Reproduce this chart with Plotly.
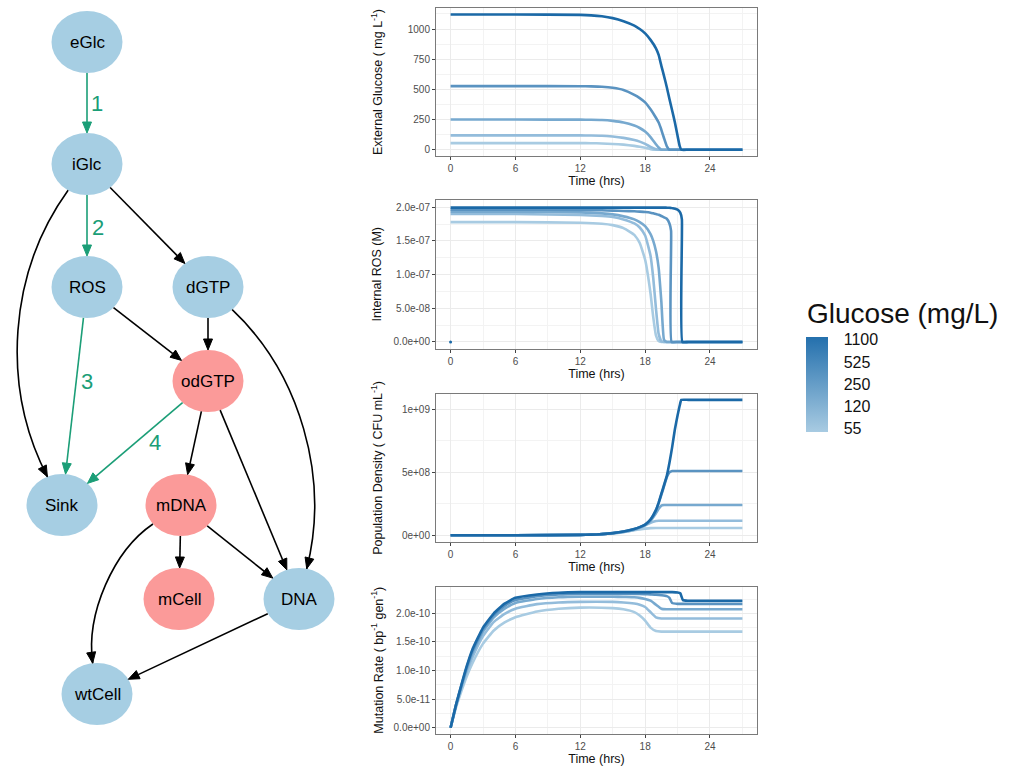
import math
import plotly.graph_objects as go

# ---------------- data ----------------
glucose_levels = ['1100', '525', '250', '120', '55']
line_colors = ['#1b69a7', '#5a93c1', '#77a9cf', '#93bcdb', '#a8cbe2']

# external glucose (mg/L) and population density (units of 1e9 CFU/mL)
t_glc = [0, 6, 12, 13, 14, 15, 16, 17, 17.5, 18, 18.5, 19, 19.25, 19.5, 19.75,
         20, 20.25, 20.5, 20.75, 21, 21.2, 21.35, 22, 27]
glc_1100 = [1120, 1120, 1117, 1113, 1105, 1090, 1065, 1028, 1000, 964, 910, 840,
            785, 695, 610, 520, 420, 325, 228, 115, 30, 0, 0, 0]
glc_525 = [527, 527, 526, 525, 522, 513, 495, 455, 428, 392, 335, 265,
           225, 165, 95, 30, 0, 0, 0, 0, 0, 0, 0, 0]
glc_250 = [250, 250, 249, 248, 246, 239, 226, 200, 180, 150, 105, 45,
           18, 0, 0, 0, 0, 0, 0, 0, 0, 0, 0, 0]
glc_120 = [119, 119, 118.5, 118, 116, 109, 98, 80, 67, 48, 24, 4,
           0, 0, 0, 0, 0, 0, 0, 0, 0, 0, 0, 0]
glc_55 = [55, 55, 54.5, 54, 52, 48, 42, 32, 25, 16, 5, 0,
          0, 0, 0, 0, 0, 0, 0, 0, 0, 0, 0, 0]

pop_1100 = [0, 0.0001, 0.003, 0.005, 0.009, 0.017, 0.03, 0.05, 0.065, 0.085, 0.125, 0.2,
            0.26, 0.33, 0.4, 0.47, 0.575, 0.70, 0.84, 0.95, 1.03, 1.075, 1.075, 1.075]
pop_525 = [0, 0.0001, 0.003, 0.005, 0.009, 0.017, 0.03, 0.05, 0.065, 0.085, 0.125, 0.2,
           0.255, 0.32, 0.39, 0.46, 0.50, 0.51, 0.51, 0.51, 0.51, 0.51, 0.51, 0.51]
pop_250 = [0, 0.0001, 0.003, 0.005, 0.009, 0.016, 0.028, 0.047, 0.062, 0.08, 0.115, 0.175,
           0.21, 0.235, 0.24, 0.24, 0.24, 0.24, 0.24, 0.24, 0.24, 0.24, 0.24, 0.24]
pop_120 = [0, 0.0001, 0.003, 0.005, 0.009, 0.016, 0.027, 0.045, 0.06, 0.078, 0.10, 0.113,
           0.115, 0.115, 0.115, 0.115, 0.115, 0.115, 0.115, 0.115, 0.115, 0.115, 0.115, 0.115]
pop_55 = [0, 0.0001, 0.003, 0.005, 0.009, 0.015, 0.025, 0.04, 0.047, 0.053, 0.057, 0.058,
          0.058, 0.058, 0.058, 0.058, 0.058, 0.058, 0.058, 0.058, 0.058, 0.058, 0.058, 0.058]

# internal ROS (units of 1e-7 M)
t_ros = [0, 6, 12, 14, 15, 16, 17, 17.5, 18, 18.5, 18.75, 19, 19.25, 19.5, 19.75,
         20, 20.25, 20.4, 20.45, 21, 21.25, 21.4, 21.45, 22, 27]
ros_1100 = [1.995, 1.995, 1.995, 1.995, 1.995, 1.995, 1.995, 1.995, 1.995, 1.995, 1.995, 1.995,
            1.995, 1.995, 1.995, 1.994, 1.992, 1.99, 1.99, 1.965, 1.92, 1.82, 0, 0, 0]
ros_525 = [1.965, 1.965, 1.96, 1.955, 1.95, 1.945, 1.94, 1.935, 1.93, 1.92, 1.91, 1.90,
           1.89, 1.87, 1.85, 1.83, 1.76, 1.65, 0, 0, 0, 0, 0, 0, 0]
ros_250 = [1.935, 1.935, 1.925, 1.91, 1.895, 1.865, 1.82, 1.78, 1.72, 1.6, 1.5, 1.35,
           1.1, 0.6, 0.03, 0, 0, 0, 0, 0, 0, 0, 0, 0, 0]
ros_120 = [1.90, 1.90, 1.885, 1.87, 1.855, 1.82, 1.76, 1.70, 1.58, 1.28, 0.95, 0.5,
           0.12, 0.01, 0, 0, 0, 0, 0, 0, 0, 0, 0, 0, 0]
ros_55 = [1.78, 1.78, 1.77, 1.755, 1.735, 1.69, 1.59, 1.47, 1.22, 0.72, 0.37, 0.1,
          0.015, 0, 0, 0, 0, 0, 0, 0, 0, 0, 0, 0, 0]

# mutation rate (units of 1e-10 per bp per generation)
t_mut = [0, 0.5, 1, 1.5, 2, 3, 4, 5, 6, 8, 10, 12, 15, 16, 17, 17.5, 18, 18.5, 19,
         19.5, 20, 20.25, 20.5, 21, 21.25, 21.5, 22, 27]
mut_1100 = [0, 0.40, 0.75, 1.08, 1.36, 1.75, 2.00, 2.17, 2.27, 2.33, 2.36, 2.37, 2.37, 2.37,
            2.37, 2.37, 2.37, 2.37, 2.37, 2.37, 2.37, 2.37, 2.37, 2.365, 2.35, 2.23, 2.22, 2.22]
mut_525 = [0, 0.40, 0.74, 1.06, 1.33, 1.72, 1.97, 2.13, 2.23, 2.30, 2.33, 2.34, 2.34, 2.34,
           2.34, 2.34, 2.335, 2.33, 2.325, 2.315, 2.30, 2.27, 2.18, 2.165, 2.165, 2.165, 2.165, 2.165]
mut_250 = [0, 0.39, 0.72, 1.03, 1.29, 1.68, 1.93, 2.08, 2.18, 2.25, 2.28, 2.29, 2.29, 2.285,
           2.28, 2.27, 2.25, 2.22, 2.15, 2.08, 2.07, 2.07, 2.07, 2.07, 2.07, 2.07, 2.07, 2.07]
mut_120 = [0, 0.38, 0.70, 0.98, 1.22, 1.60, 1.85, 1.99, 2.08, 2.16, 2.19, 2.20, 2.20, 2.19,
           2.17, 2.15, 2.11, 2.02, 1.93, 1.91, 1.91, 1.91, 1.91, 1.91, 1.91, 1.91, 1.91, 1.91]
mut_55 = [0, 0.35, 0.64, 0.90, 1.12, 1.47, 1.70, 1.84, 1.93, 2.03, 2.08, 2.10, 2.09, 2.07,
          2.02, 1.96, 1.87, 1.75, 1.69, 1.68, 1.68, 1.68, 1.68, 1.68, 1.68, 1.68, 1.68, 1.68]

# network diagram
node_names = ['eGlc', 'iGlc', 'ROS', 'dGTP', 'odGTP', 'Sink', 'mDNA', 'mCell', 'DNA', 'wtCell']
node_x = [87, 87, 87, 208, 208, 62, 181, 179, 299, 97]
node_y = [42, 164, 287, 287, 381, 505, 505, 599, 599, 694]
node_kind = ['wt', 'wt', 'wt', 'wt', 'mut', 'wt', 'mut', 'mut', 'wt', 'wt']
# (source, target, reaction label, bend)
edges = [
    ('eGlc', 'iGlc', '1', 0), ('iGlc', 'ROS', '2', 0), ('ROS', 'Sink', '3', 0),
    ('odGTP', 'Sink', '4', 0), ('iGlc', 'dGTP', '', 0), ('iGlc', 'Sink', '', 70),
    ('ROS', 'odGTP', '', 0), ('dGTP', 'odGTP', '', 0), ('dGTP', 'DNA', '', -64),
    ('odGTP', 'mDNA', '', 0), ('odGTP', 'DNA', '', 0), ('mDNA', 'mCell', '', 0),
    ('mDNA', 'DNA', '', 0), ('mDNA', 'wtCell', '', 43), ('DNA', 'wtCell', '', 0),
]
label_x = {'1': 97, '2': 98, '3': 87, '4': 155}
label_y = {'1': 103, '2': 227, '3': 381, '4': 442}

# ---------------- figure ----------------
W, H = 1020, 767
FONT = 'Liberation Sans, Arial, sans-serif'
GREEN = '#1b9e77'
node_fill = {'wt': '#a6cee3', 'mut': '#fb9a99'}
RX, RY = 35.5, 31
HEAD_L, HEAD_W = 11, 4.5

fig = go.Figure()

panels = [
    (t_glc, [glc_1100, glc_525, glc_250, glc_120, glc_55], 1),
    (t_ros, [ros_1100, ros_525, ros_250, ros_120, ros_55], 1e-7),
    (t_glc, [pop_1100, pop_525, pop_250, pop_120, pop_55], 1e9),
    (t_mut, [mut_1100, mut_525, mut_250, mut_120, mut_55], 1e-10),
]
for i, (tt, series, unit) in enumerate(panels):
    ax = '' if i == 0 else str(i + 1)
    for j in reversed(range(5)):
        fig.add_trace(go.Scatter(
            x=tt, y=[v * unit for v in series[j]], mode='lines',
            line=dict(color=line_colors[j], width=2.6, shape='spline', smoothing=0.4),
            name=glucose_levels[j], showlegend=False,
            xaxis='x' + ax, yaxis='y' + ax,
        ))

# ROS series start from zero at t = 0
fig.add_trace(go.Scatter(x=[0], y=[0], mode='markers', marker=dict(color=line_colors[0], size=3),
                         showlegend=False, xaxis='x2', yaxis='y2'))

# colour scale legend
fig.add_trace(go.Scatter(
    x=[10], y=[500], mode='markers', showlegend=False, hoverinfo='skip',
    marker=dict(size=1, opacity=0, color=[0], cmin=-0.15, cmax=4.15,
                colorscale=[[0, '#a8cbe2'], [1, '#2470ad']],
                showscale=True,
                colorbar=dict(x=806 / W, xanchor='left', xpad=0, ypad=0,
                              y=1 - 384 / H, yanchor='middle',
                              len=95, lenmode='pixels', thickness=22,
                              outlinewidth=0,
                              tickvals=[4, 3, 2, 1, 0], ticktext=glucose_levels,
                              ticks='outside', ticklen=13, tickcolor='rgba(0,0,0,0)',
                              tickfont=dict(size=16, color='#111', family=FONT))),
))

x_dom = [436 / W, 757 / W]
y_px = [(8, 156), (200, 349), (394, 541.7), (587.3, 734)]
y_ranges = [[-52, 1174], [-1.04e-8, 2.108e-7], [-0.0508e9, 1.1214e9], [-1.10e-11, 2.4545e-10]]
y_ticks = [
    ([0, 250, 500, 750, 1000], ['0', '250', '500', '750', '1000'],
     [125, 375, 625, 875, 1125]),
    ([0, 5e-8, 1e-7, 1.5e-7, 2e-7], ['0.0e+00', '5.0e-08', '1.0e-07', '1.5e-07', '2.0e-07'],
     [2.5e-8, 7.5e-8, 1.25e-7, 1.75e-7]),
    ([0, 5e8, 1e9], ['0e+00', '5e+08', '1e+09'], [2.5e8, 7.5e8]),
    ([0, 5e-11, 1e-10, 1.5e-10, 2e-10], ['0.0e+00', '5.0e-11', '1.0e-10', '1.5e-10', '2.0e-10'],
     [2.5e-11, 7.5e-11, 1.25e-10, 1.75e-10, 2.25e-10]),
]
y_titles = ['External Glucose ( mg L<sup>-1</sup>)', 'Internal ROS (M)',
            'Population Density ( CFU mL<sup>-1</sup>)',
            'Mutation Rate ( bp<sup>-1</sup> gen<sup>-1</sup>)']

layout_axes = {}
annotations = []
for i in range(4):
    ax = '' if i == 0 else str(i + 1)
    top, bot = y_px[i]
    layout_axes['xaxis' + ax] = dict(
        domain=x_dom, anchor='y' + ax, range=[-1.35, 28.35],
        tickmode='array', tickvals=[0, 6, 12, 18, 24],
        showgrid=True, gridcolor='#ebebeb', gridwidth=1,
        minor=dict(tickmode='array', tickvals=[3, 9, 15, 21, 27], showgrid=True,
                   gridcolor='#f3f3f3', gridwidth=0.6, ticks=''),
        showline=True, linecolor='#7a7a7a', linewidth=1, mirror=True,
        ticks='outside', ticklen=3, tickcolor='#444',
        tickfont=dict(size=10, color='#4d4d4d'), zeroline=False,
        title=dict(text='Time (hrs)', font=dict(size=12.5, color='#111'), standoff=3),
    )
    vals, texts, minors = y_ticks[i]
    layout_axes['yaxis' + ax] = dict(
        domain=[1 - bot / H, 1 - top / H], anchor='x' + ax, range=y_ranges[i],
        tickmode='array', tickvals=vals, ticktext=texts,
        showgrid=True, gridcolor='#ebebeb', gridwidth=1,
        minor=dict(tickmode='array', tickvals=minors, showgrid=True,
                   gridcolor='#f3f3f3', gridwidth=0.6, ticks=''),
        showline=True, linecolor='#7a7a7a', linewidth=1, mirror=True,
        ticks='outside', ticklen=3, tickcolor='#444',
        tickfont=dict(size=10, color='#4d4d4d'), zeroline=False,
    )
    annotations.append(dict(
        text=y_titles[i], x=377 / W, y=1 - (top + bot) / 2 / H, xref='paper', yref='paper',
        textangle=-90, showarrow=False, xanchor='center', yanchor='middle',
        font=dict(size=12.5, color='#111'),
    ))

annotations.append(dict(text='Glucose (mg/L)', x=805 / W, y=1 - 313 / H, xref='paper', yref='paper',
                        showarrow=False, xanchor='left', yanchor='middle',
                        font=dict(size=28, color='#111')))

# network axes (one unit = one pixel)
layout_axes['xaxis5'] = dict(domain=[0, 340 / W], range=[0, 340], visible=False,
                             anchor='y5', fixedrange=True)
layout_axes['yaxis5'] = dict(domain=[0, 1], range=[H, 0], visible=False,
                             anchor='x5', fixedrange=True)

pos = {n: (node_x[k], node_y[k]) for k, n in enumerate(node_names)}


def boundary(center, toward):
    dx, dy = toward[0] - center[0], toward[1] - center[1]
    d = math.hypot(dx, dy)
    ux, uy = dx / d, dy / d
    r = 1 / math.sqrt((ux / RX) ** 2 + (uy / RY) ** 2)
    return center[0] + ux * r, center[1] + uy * r


shapes = []
for k, n in enumerate(node_names):
    cx, cy = pos[n]
    shapes.append(dict(type='circle', xref='x5', yref='y5', x0=cx - RX, x1=cx + RX,
                       y0=cy - RY, y1=cy + RY, fillcolor=node_fill[node_kind[k]],
                       line=dict(width=0), layer='below'))
    annotations.append(dict(text=n, x=cx, y=cy, xref='x5', yref='y5', showarrow=False,
                            font=dict(size=17, color='#000')))

for src, dst, lab, bend in edges:
    col = GREEN if lab else '#000000'
    s, t = pos[src], pos[dst]
    if bend == 0:
        p0 = boundary(s, t)
        p1 = boundary(t, s)
        prev = p0
    else:
        cx, cy = t[0] - s[0], t[1] - s[1]
        L = math.hypot(cx, cy)
        ux, uy = cx / L, cy / L
        nx, ny = -uy * bend, ux * bend
        c1 = (s[0] + cx / 3 + nx, s[1] + cy / 3 + ny)
        c2 = (s[0] + 2 * cx / 3 + nx, s[1] + 2 * cy / 3 + ny)
        p0 = boundary(s, c1)
        p1 = boundary(t, c2)
        prev = c2
    ex, ey = p1[0] - prev[0], p1[1] - prev[1]
    el = math.hypot(ex, ey)
    ux, uy = ex / el, ey / el
    base = (p1[0] - ux * HEAD_L, p1[1] - uy * HEAD_L)
    if bend == 0:
        path = f'M {p0[0]},{p0[1]} L {base[0]},{base[1]}'
    else:
        path = f'M {p0[0]},{p0[1]} C {c1[0]},{c1[1]} {c2[0]},{c2[1]} {p1[0]},{p1[1]}'
    shapes.append(dict(type='path', xref='x5', yref='y5', path=path,
                       line=dict(color=col, width=1.6), layer='above'))
    left = (base[0] - uy * HEAD_W, base[1] + ux * HEAD_W)
    right = (base[0] + uy * HEAD_W, base[1] - ux * HEAD_W)
    shapes.append(dict(type='path', xref='x5', yref='y5',
                       path=f'M {p1[0]},{p1[1]} L {left[0]},{left[1]} L {right[0]},{right[1]} Z',
                       fillcolor=col, line=dict(color=col, width=1), layer='above'))
    if lab:
        annotations.append(dict(text=lab, x=label_x[lab], y=label_y[lab], xref='x5', yref='y5',
                                showarrow=False, font=dict(size=22, color=GREEN)))

fig.update_layout(
    width=W, height=H, margin=dict(l=0, r=0, t=0, b=0),
    paper_bgcolor='white', plot_bgcolor='white',
    font=dict(family=FONT, color='#111'),
    showlegend=False, shapes=shapes, annotations=annotations,
    **layout_axes,
)

fig.write_html('out.html', config={'displayModeBar': False},
               post_script="document.body.style.margin='0px';")
